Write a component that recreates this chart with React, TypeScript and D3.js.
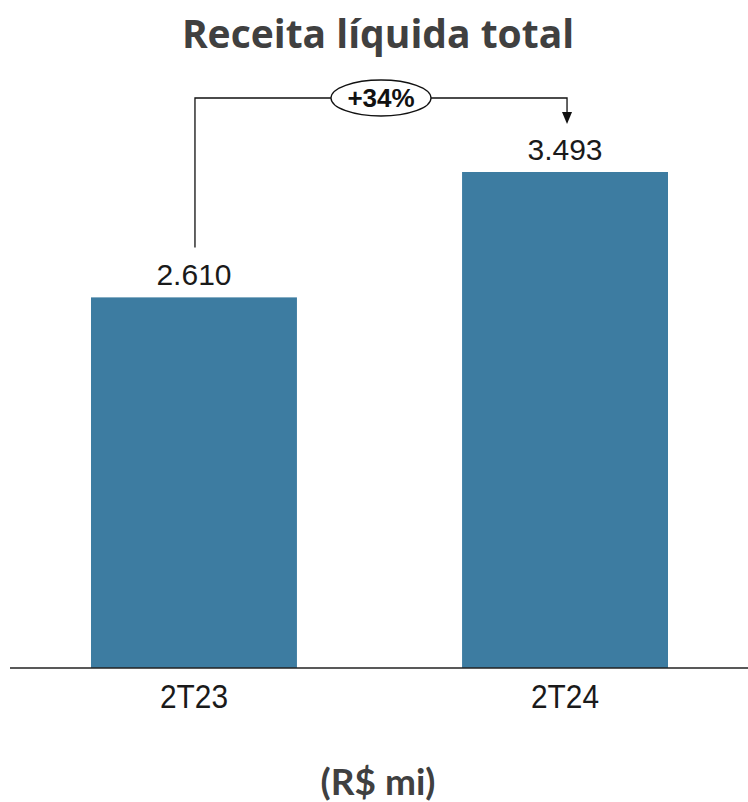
import React from "react";
import * as d3 from "d3";

const categories = ["2T23", "2T24"];
const values = [2610, 3493];
const valueLabels = ["2.610", "3.493"];
const growthLabel = "+34%";
const title = "Receita líquida total";
const unitLabel = "(R$ mi)";

export default function App() {
  const W = 748, H = 802;
  const baseY = 668;
  const xs = d3.scaleBand<string>().domain(categories).range([91, 668]).paddingInner(0.445).paddingOuter(0);
  const y = d3.scaleLinear().domain([0, 3493]).range([baseY, 172]);
  const bw = xs.bandwidth();
  const cx = (c: string) => (xs(c) as number) + bw / 2;
  const top0 = y(values[0]);
  const bracketY = 98;
  const x0 = cx(categories[0]) + 1;
  const x1 = cx(categories[1]) + 2;
  const ellX = 381;
  return (
    <svg width={W} height={H} style={{ position: "absolute", left: 0, top: 0 }}>
      <rect width={W} height={H} fill="#fff" />
      <text x={378} y={48} textAnchor="middle" fontFamily="'Open Sans', Lato, sans-serif" fontWeight={700} fontSize={39} fill="#404040">{title}</text>
      {categories.map((c, i) => (
        <g key={c}>
          <rect x={xs(c)} y={y(values[i])} width={bw} height={baseY - y(values[i])} fill="#3d7ca1" />
          <text x={cx(c)} y={y(values[i]) - 12} textAnchor="middle" fontFamily="'Liberation Sans', 'Open Sans', sans-serif" fontSize={30} fill="#1a1a1a">{valueLabels[i]}</text>
          <text x={cx(c)} y={708} textAnchor="middle" fontFamily="'Liberation Sans Narrow', 'Liberation Sans', sans-serif" fontSize={33} textLength={68} lengthAdjust="spacingAndGlyphs" fill="#1a1a1a">{c}</text>
        </g>
      ))}
      <line x1={10} x2={748} y1={baseY} y2={baseY} stroke="#222" strokeWidth={1.5} />
      <path d={`M${x0},${top0 - 50} V${bracketY} H${x1} V${bracketY + 16}`} fill="none" stroke="#111" strokeWidth={1.3} />
      <path d={`M${x1 - 5},${bracketY + 14} L${x1 + 5},${bracketY + 14} L${x1},${bracketY + 26} Z`} fill="#111" />
      <ellipse cx={ellX} cy={bracketY} rx={50} ry={18} fill="#fff" stroke="#111" strokeWidth={1.3} />
      <text x={ellX} y={bracketY + 9} textAnchor="middle" fontFamily="'Liberation Sans', sans-serif" fontWeight={700} fontSize={26} fill="#111">{growthLabel}</text>
      <text x={378} y={795} textAnchor="middle" fontFamily="Lato, 'Open Sans', sans-serif" fontWeight={700} fontSize={37} fill="#404040">{unitLabel}</text>
    </svg>
  );
}
